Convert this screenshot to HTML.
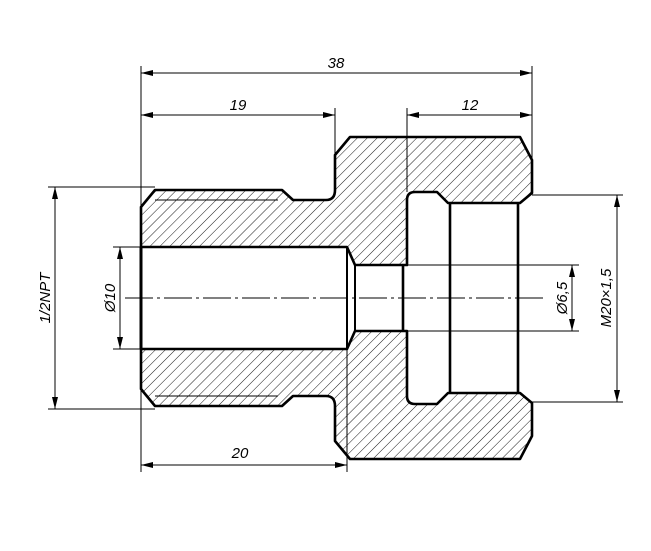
<!DOCTYPE html>
<html><head><style>body{margin:0;background:#fff}svg{display:block}text{font-family:"Liberation Sans",sans-serif;font-style:italic;font-size:15px;fill:#000}</style></head><body>
<svg width="651" height="551" viewBox="0 0 651 551">
<defs>
<pattern id="h" width="7" height="7" patternUnits="userSpaceOnUse" patternTransform="rotate(45)">
<line x1="0" y1="0" x2="0" y2="7" stroke="#000" stroke-width="0.9"/>
</pattern>
<marker id="a" viewBox="0 0 12 6" refX="12" refY="3" markerWidth="12" markerHeight="6" orient="auto-start-reverse" markerUnits="userSpaceOnUse"><path d="M0,0 L12,3 L0,6 Z" fill="#000"/></marker>
</defs>
<g fill="url(#h)" stroke="#000" stroke-width="2.6" stroke-linejoin="round">
<path d="M141,247 L141,207 L155,190 L282,190 L293,200 L326,200 Q335,200 335,190 L335,155 L350,137 L520,137 L532,160 L532,193 L520,203 L448,203 L437,192 L415,192 Q407,192 407,200 L407,265 L355,265 L347,247 Z"/>
<path d="M141,349 L141,389 L155,406 L282,406 L293,396 L326,396 Q335,396 335,406 L335,441 L350,459 L520,459 L532,436 L532,403 L520,393 L448,393 L437,404 L415,404 Q407,404 407,396 L407,331 L355,331 L347,349 Z"/>
</g>
<g stroke="#000" fill="none">
<line x1="141" y1="247" x2="141" y2="349" stroke-width="3"/>
<line x1="347" y1="247" x2="347" y2="349" stroke-width="2"/>
<line x1="355" y1="265" x2="355" y2="331" stroke-width="2"/>
<line x1="403" y1="265" x2="403" y2="331" stroke-width="2.6"/>
<line x1="450" y1="203" x2="450" y2="393" stroke-width="2.6"/>
<line x1="518" y1="203" x2="518" y2="393" stroke-width="2.6"/>
<g stroke-width="1">
<line x1="155" y1="200" x2="278" y2="200"/>
<line x1="155" y1="396" x2="278" y2="396"/>
<line x1="125" y1="298" x2="545" y2="298" stroke-dasharray="28,4,3,4"/>
<line x1="141" y1="66" x2="141" y2="472"/>
<line x1="532" y1="66" x2="532" y2="160"/>
<line x1="335" y1="108" x2="335" y2="155"/>
<line x1="407" y1="108" x2="407" y2="192"/>
<line x1="347" y1="349" x2="347" y2="472"/>
<line x1="48" y1="187" x2="155" y2="187"/>
<line x1="48" y1="409" x2="155" y2="409"/>
<line x1="113" y1="247" x2="141" y2="247"/>
<line x1="113" y1="349" x2="141" y2="349"/>
<line x1="403" y1="265" x2="579" y2="265"/>
<line x1="403" y1="331" x2="579" y2="331"/>
<line x1="532" y1="195" x2="623" y2="195"/>
<line x1="532" y1="402" x2="623" y2="402"/>
<line x1="141" y1="73" x2="532" y2="73" marker-start="url(#a)" marker-end="url(#a)"/>
<line x1="141" y1="115" x2="335" y2="115" marker-start="url(#a)" marker-end="url(#a)"/>
<line x1="407" y1="115" x2="532" y2="115" marker-start="url(#a)" marker-end="url(#a)"/>
<line x1="141" y1="465" x2="347" y2="465" marker-start="url(#a)" marker-end="url(#a)"/>
<line x1="55" y1="187" x2="55" y2="409" marker-start="url(#a)" marker-end="url(#a)"/>
<line x1="120" y1="247" x2="120" y2="349" marker-start="url(#a)" marker-end="url(#a)"/>
<line x1="572" y1="265" x2="572" y2="331" marker-start="url(#a)" marker-end="url(#a)"/>
<line x1="617" y1="195" x2="617" y2="402" marker-start="url(#a)" marker-end="url(#a)"/>
</g>
</g>
<text x="336" y="68" text-anchor="middle">38</text>
<text x="238" y="110" text-anchor="middle">19</text>
<text x="470" y="110" text-anchor="middle">12</text>
<text x="240" y="458" text-anchor="middle">20</text>
<text transform="translate(50,298) rotate(-90)" text-anchor="middle">1/2NPT</text>
<text transform="translate(115,298) rotate(-90)" text-anchor="middle">Ø10</text>
<text transform="translate(567,298) rotate(-90)" text-anchor="middle">Ø6,5</text>
<text transform="translate(611,298) rotate(-90)" text-anchor="middle">M20×1,5</text>
</svg>
</body></html>
